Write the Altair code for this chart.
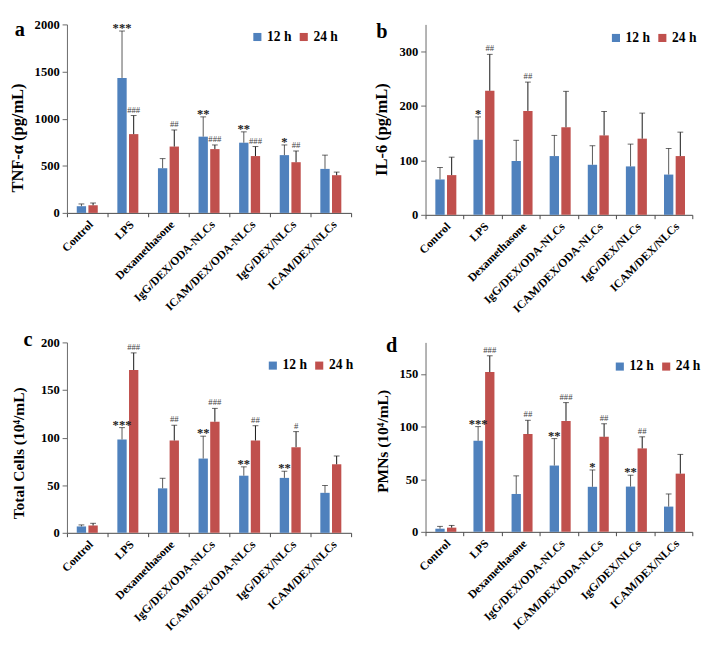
import altair as alt
import pandas as pd

categories = ["Control", "LPS", "Dexamethasone", "IgG/DEX/ODA-NLCs",
              "ICAM/DEX/ODA-NLCs", "IgG/DEX/NLCs", "ICAM/DEX/NLCs"]
series = ["12 h", "24 h"]
colors = ["#4F81BD", "#C0504D"]

# Panel a: TNF-alpha (pg/mL)
tnf_12 = [71, 1432, 474, 809, 745, 613, 467]
tnf_12_sd = [24, 498, 102, 210, 115, 108, 146]
tnf_24 = [81, 836, 704, 677, 603, 538, 400]
tnf_24_sd = [24, 197, 176, 44, 101, 119, 33]
tnf_12_sig = ["", "***", "", "**", "**", "*", ""]
tnf_24_sig = ["", "###", "##", "###", "###", "##", ""]

# Panel b: IL-6 (pg/mL)
il6_12 = [65, 138, 99, 108, 92, 89, 74]
il6_12_sd = [22, 42, 38, 38, 35, 41, 48]
il6_24 = [73, 228, 191, 161, 146, 140, 108]
il6_24_sd = [33, 67, 53, 66, 44, 47, 44]
il6_12_sig = ["", "*", "", "", "", "", ""]
il6_24_sig = ["", "##", "##", "", "", "", ""]

# Panel c: Total cells (10^4/mL)
cells_12 = [6.7, 98, 46.7, 78, 60, 57.7, 42]
cells_12_sd = [1.6, 12.5, 10.6, 23.5, 9.3, 7, 7.7]
cells_24 = [7.7, 171, 97, 116.7, 97, 90, 72]
cells_24_sd = [2.3, 18, 16, 14, 15.5, 16.3, 8.7]
cells_12_sig = ["", "***", "", "**", "**", "**", ""]
cells_24_sig = ["", "###", "##", "###", "##", "#", ""]

# Panel d: PMNs (10^4/mL)
pmn_12 = [3, 86.5, 36, 63, 42.8, 43, 24]
pmn_12_sd = [2.2, 13.5, 17.2, 25.6, 16, 10.8, 12]
pmn_24 = [4, 151.8, 92.9, 105.4, 90.3, 79.3, 55.3]
pmn_24_sd = [2.1, 15.5, 13.1, 17.4, 12.4, 11, 18.3]
pmn_12_sig = ["", "***", "", "**", "*", "**", ""]
pmn_24_sig = ["", "###", "##", "###", "##", "##", ""]

FONT = "Liberation Serif"


def panel(letter, ytitle, v12, s12, v24, s24, g12, g24, ymax, yticks,
          w, h, title_size, title_pos, leg_x, leg_y, leg_size, letter_dx,
          extent, letter_offset):
    rows = []
    for i, c in enumerate(categories):
        rows.append({"group": c, "time": "12 h", "mean": v12[i],
                     "upper": v12[i] + s12[i], "sig": g12[i]})
        rows.append({"group": c, "time": "24 h", "mean": v24[i],
                     "upper": v24[i] + s24[i], "sig": g24[i]})
    df = pd.DataFrame(rows)
    base = alt.Chart(df)
    x = alt.X("group:N", sort=categories, title=None,
              scale=alt.Scale(paddingInner=0, paddingOuter=0),
              axis=alt.Axis(labelAngle=-45, tickBand="extent", labelFont=FONT,
                            labelFontWeight="bold", labelFontSize=12,
                            labelColor="black", domainColor="#444",
                            tickColor="#444", tickSize=4, labelPadding=2,
                            labelLimit=250))
    xo = alt.XOffset("time:N", sort=series,
                     scale=alt.Scale(paddingInner=0.2, paddingOuter=0.84))
    y = alt.Y("mean:Q", title=ytitle,
              scale=alt.Scale(domain=[0, ymax], nice=False, zero=True),
              axis=alt.Axis(values=yticks, format="d", grid=False, labelFont=FONT,
                            labelFontWeight="bold", labelFontSize=13,
                            labelColor="black", titleFont=FONT,
                            titleFontWeight="bold", titleFontSize=title_size,
                            titleColor="black", domainColor="#666",
                            tickColor="#666", tickSize=5, labelPadding=3,
                            titlePadding=4, minExtent=extent, maxExtent=extent,
                            titleY=h * title_pos))
    color = alt.Color("time:N", sort=series,
                      scale=alt.Scale(domain=series, range=colors),
                      legend=alt.Legend(title=None, orient="none", legendX=leg_x,
                                        legendY=leg_y, direction="horizontal",
                                        symbolType="square", symbolSize=70,
                                        symbolStrokeWidth=0, labelFont=FONT,
                                        labelFontWeight="bold",
                                        labelFontSize=leg_size,
                                        labelColor="black", columnPadding=5,
                                        padding=0, labelOffset=3))
    bars = base.mark_bar().encode(x=x, xOffset=xo, y=y, color=color)
    err12 = base.transform_filter(alt.datum.time == "12 h").mark_rule(
        color="#555", strokeWidth=1).encode(x=x, xOffset=xo, y="mean:Q", y2="upper:Q")
    err24 = base.transform_filter(alt.datum.time == "24 h").mark_rule(
        color="#111", strokeWidth=1).encode(x=x, xOffset=xo, y="mean:Q", y2="upper:Q")
    cap = base.mark_tick(color="#222", thickness=1, size=6).encode(
        x=x, xOffset=xo, y="upper:Q")
    stars = base.transform_filter(alt.datum.time == "12 h").mark_text(
        font=FONT, fontSize=13, fontWeight="bold", baseline="bottom", dy=4,
        color="#222").encode(x=x, xOffset=xo, y="upper:Q", text="sig:N")
    hashes = base.transform_filter(alt.datum.time == "24 h").mark_text(
        font=FONT, fontSize=9, baseline="bottom", dy=-1,
        color="#444").encode(x=x, xOffset=xo, y="upper:Q", text="sig:N")
    return alt.layer(bars, err12, err24, cap, stars, hashes).properties(
        width=w, height=h,
        title=alt.TitleParams(letter, anchor="start", frame="bounds",
                              fontSize=21, font=FONT, fontWeight="bold",
                              color="black", offset=letter_offset, dx=letter_dx))


pa = panel("a", "TNF-α (pg/mL)", tnf_12, tnf_12_sd, tnf_24, tnf_24_sd,
           tnf_12_sig, tnf_24_sig, 2000, [0, 500, 1000, 1500, 2000],
           294, 195, 17, 0.6, 190, 6, 14, 6, 38, -22)
pb = panel("b", "IL-6 (pg/mL)", il6_12, il6_12_sd, il6_24, il6_24_sd,
           il6_12_sig, il6_24_sig, 350, [0, 100, 200, 300],
           276, 197, 17, 0.55, 190, 7, 14, 3, 32, -18)
pc = panel("c", "Total Cells (10⁴/mL)", cells_12, cells_12_sd, cells_24,
           cells_24_sd, cells_12_sig, cells_24_sig, 200, [0, 50, 100, 150, 200],
           294, 197, 16, 0.58, 206, 17, 14, 13, 38, -14)
pd_ = panel("d", "PMNs (10⁴/mL)", pmn_12, pmn_12_sd, pmn_24, pmn_24_sd,
            pmn_12_sig, pmn_24_sig, 180, [0, 50, 100, 150],
            276, 196, 16, 0.52, 194, 18, 14, 11, 32, -14)

row1 = alt.hconcat(pa, pb, spacing=22).resolve_scale(
    color="independent").resolve_legend(color="independent")
row2 = alt.hconcat(pc, pd_, spacing=22).resolve_scale(
    color="independent").resolve_legend(color="independent")

chart = alt.vconcat(row1, row2, spacing=16).resolve_scale(
    color="independent").resolve_legend(color="independent").properties(
    padding={"left": 1, "top": 0, "right": 0, "bottom": 0},
    background="white"
).configure_view(stroke=None)

chart.save("out.html", embed_options={"renderer": "svg", "actions": False})
